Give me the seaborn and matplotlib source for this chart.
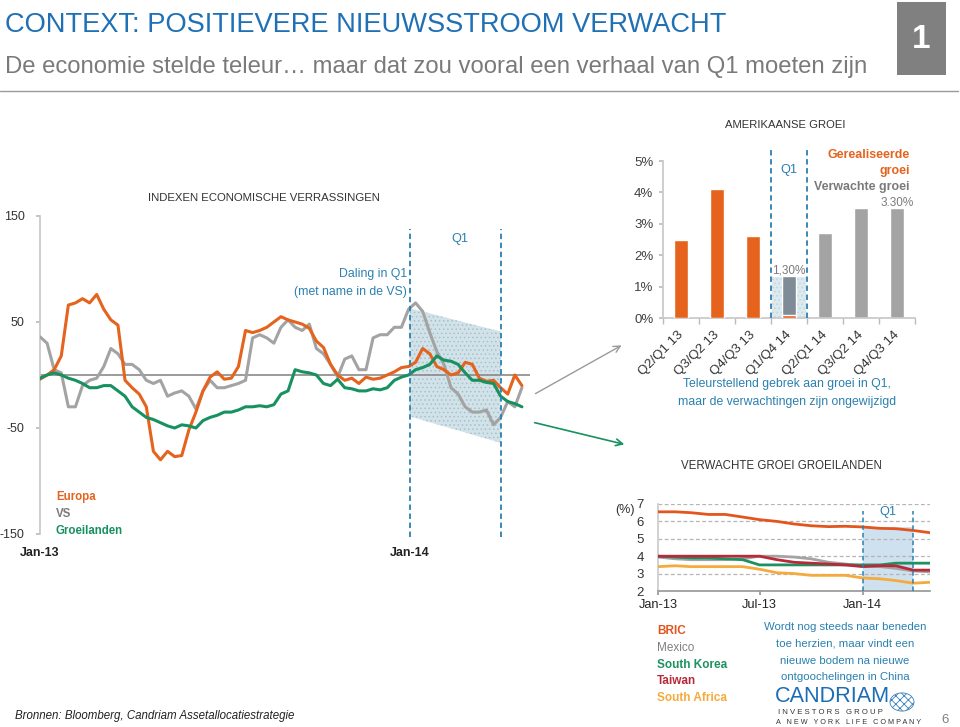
import numpy as np
import pandas as pd
import matplotlib
matplotlib.use("Agg")
import matplotlib.pyplot as plt
import matplotlib.dates as mdates
from matplotlib import font_manager as fm
from matplotlib.patches import Polygon, Rectangle, Circle, FancyArrowPatch
import seaborn as sns

# ---- data: indexen economische verrassingen (weekly, Jan-13 .. Apr-14)
weken = pd.date_range("2013-01-01", periods=69, freq="7D")
europa = [-4, 0, 5, 18, 66, 68, 72, 68, 76, 62, 52, 47, -5, -12, -18, -30, -72, -80,
          -72, -77, -76, -52, -35, -15, -2, 3, -4, -3, 8, 42, 40, 42, 45, 50, 55, 52,
          50, 48, 44, 32, 26, 10, 0, -5, -3, -8, -2, -4, -3, 0, 3, 7, 8, 12, 25, 20,
          8, 5, 0, 2, 12, 10, -3, -6, -5, -12, -18, 0, -10]
vs = [36, 30, 5, 2, -30, -30, -10, -5, -3, 8, 25, 20, 10, 10, 5, -5, -8, -5, -20,
      -17, -15, -20, -32, -15, -5, -12, -12, -10, -8, -5, 35, 38, 35, 30, 45, 52, 45,
      42, 48, 25, 20, 10, -2, 15, 18, 5, 5, 35, 38, 38, 45, 45, 62, 68, 60, 40, 22,
      10, -12, -18, -30, -35, -35, -33, -47, -40, -25, -30, -12]
groeilanden = [-3, 0, 2, 0, -3, -5, -8, -12, -12, -10, -10, -15, -20, -30, -35, -40,
               -42, -45, -48, -50, -47, -48, -50, -43, -40, -38, -35, -35, -33, -30,
               -30, -29, -30, -28, -18, -15, 5, 3, 2, 0, -8, -10, -4, -12, -13, -15,
               -15, -13, -14, -12, -5, -2, 0, 5, 7, 10, 18, 14, 13, 10, 2, -5, -5, -7,
               -8, -20, -25, -27, -30]

# ---- data: amerikaanse groei
kwartalen = ["Q2/Q1 13", "Q3/Q2 13", "Q4/Q3 13", "Q1/Q4 14", "Q2/Q1 14", "Q3/Q2 14", "Q4/Q3 14"]
gerealiseerd = [2.5, 4.1, 2.6, 0.1, None, None, None]
verwacht = [None, None, None, 1.35, 2.7, 3.5, 3.5]

# ---- data: verwachte groei groeilanden (monthly)
maanden = pd.date_range("2013-01-01", periods=17, freq="MS")
bric = [6.55, 6.55, 6.5, 6.4, 6.4, 6.25, 6.1, 6.0, 5.85, 5.75, 5.7, 5.72, 5.68, 5.6, 5.58, 5.48, 5.35]
mexico = [3.95, 3.85, 3.8, 3.8, 3.8, 3.85, 4.0, 4.0, 3.95, 3.85, 3.65, 3.55, 3.45, 3.4, 3.3, 3.15, 3.1]
south_korea = [4.0, 3.95, 3.9, 3.9, 3.85, 3.8, 3.5, 3.5, 3.5, 3.5, 3.5, 3.5, 3.5, 3.5, 3.6, 3.6, 3.6]
taiwan = [4.0, 4.0, 4.0, 4.0, 4.0, 4.0, 4.0, 3.8, 3.65, 3.6, 3.55, 3.5, 3.4, 3.45, 3.45, 3.2, 3.2]
south_africa = [3.4, 3.45, 3.4, 3.4, 3.4, 3.4, 3.25, 3.05, 3.0, 2.9, 2.9, 2.9, 2.75, 2.7, 2.6, 2.45, 2.5]

ORANJE = "#E5631C"
GRIJS = "#A3A3A3"
GROEN = "#17915F"
BLAUW = "#1F70B5"
TEAL = "#2A80B0"

sns.set_theme(style="white")
plt.rcParams["font.family"] = ["Liberation Sans", "DejaVu Sans"]
plt.rcParams["hatch.linewidth"] = 0.6

W, H = 960, 727
fig = plt.figure(figsize=(W / 100, H / 100), dpi=100)


def box(x0, y0, x1, y1):
    return fig.add_axes([x0 / W, 1 - y1 / H, (x1 - x0) / W, (y1 - y0) / H])


def txt(x, y, s, size, **kw):
    fig.text(x / W, 1 - y / H, s, fontsize=size, **kw)


# ---- header
txt(5, 32, "CONTEXT: POSITIEVERE NIEUWSSTROOM VERWACHT", 19.6, color=BLAUW, va="baseline")
txt(5, 73, "De economie stelde teleur\u2026 maar dat zou vooral een verhaal van Q1 moeten zijn",
    17.2, color="#7a7a7a", va="baseline")
fig.patches.append(Rectangle((897 / W, 1 - 75 / H), 49 / W, 73 / H, transform=fig.transFigure,
                             facecolor="#808080", edgecolor="none"))
txt(921.5, 40, "1", 24, color="white", fontweight="bold", ha="center", va="center")
fig.add_artist(plt.Line2D([0, 958 / W], [1 - 91 / H] * 2, color="#9a9a9a", lw=1))

# ---- left: indexen economische verrassingen
ax1 = box(40, 216, 530, 534)
df1 = pd.DataFrame({"datum": weken, "Europa": europa, "VS": vs, "Groeilanden": groeilanden})
q1_start, q1_eind = pd.Timestamp("2014-01-01"), pd.Timestamp("2014-04-01")
band = Polygon([(mdates.date2num(q1_start), 63), (mdates.date2num(q1_eind), 41),
                (mdates.date2num(q1_eind), -64), (mdates.date2num(q1_start), -39)],
               facecolor="#d2e2e9", edgecolor="#a7c1cb", hatch="....", lw=0, zorder=0)
ax1.add_patch(band)
ax1.axhline(0, color="#8a8a8a", lw=1.2, zorder=1)
for naam, kleur in [("VS", GRIJS), ("Europa", ORANJE), ("Groeilanden", GROEN)]:
    sns.lineplot(data=df1, x="datum", y=naam, ax=ax1, color=kleur, lw=2.2, zorder=3)
for d in (q1_start, q1_eind):
    ax1.axvline(d, ymin=-0.01, ymax=0.96, color=TEAL, lw=1.3, ls=(0, (3, 2)), clip_on=False, zorder=4)
ax1.set_xlim(pd.Timestamp("2013-01-01"), pd.Timestamp("2014-04-30"))
ax1.set_ylim(-150, 150)
ax1.set_yticks([150, 50, -50, -150])
ax1.set_yticklabels(["150", "50", "-50", "-150"], fontsize=9, color="#333333")
ax1.set_xticks([pd.Timestamp("2013-01-01"), pd.Timestamp("2014-01-01")])
ax1.set_xticklabels(["Jan-13", "Jan-14"], fontsize=9, color="#222222", fontweight="bold")
ax1.tick_params(axis="y", left=True, length=3, color="#bbbbbb", pad=8)
ax1.tick_params(axis="x", bottom=False, pad=3)
ax1.set_xlabel("")
ax1.set_ylabel("")
for s in ("top", "right", "bottom"):
    ax1.spines[s].set_visible(False)
ax1.spines["left"].set_color("#c8c8c8")
txt(264, 198, "INDEXEN ECONOMISCHE VERRASSINGEN", 8.2, color="#333333", ha="center", va="center")
txt(460, 239, "Q1", 9.2, color=TEAL, ha="center", va="center")
txt(407, 274, "Daling in Q1", 8.8, color=TEAL, ha="right", va="center")
txt(407, 292, "(met name in de VS)", 8.8, color=TEAL, ha="right", va="center")
txt(56, 497, "Europa", 8.3, color=ORANJE, fontweight="bold", va="center")
txt(56, 514, "VS", 8.3, color="#7a7a7a", fontweight="bold", va="center")
txt(56, 531, "Groeilanden", 8.3, color=GROEN, fontweight="bold", va="center")

# arrows to the right-hand charts
fig.add_artist(FancyArrowPatch((533 / W, 1 - 395 / H), (624 / W, 1 - 344 / H),
               transform=fig.transFigure, arrowstyle="->", mutation_scale=12, color="#9a9a9a", lw=1))
fig.add_artist(FancyArrowPatch((532 / W, 1 - 422 / H), (627 / W, 1 - 445 / H),
               transform=fig.transFigure, arrowstyle="->", mutation_scale=12, color=GROEN, lw=1.2))

# ---- top right: amerikaanse groei
ax2 = box(663, 161, 915, 318)
df_v = pd.DataFrame({"kw": kwartalen, "v": verwacht}).dropna()
df_g = pd.DataFrame({"kw": kwartalen, "v": gerealiseerd}).dropna()
kleur_v = {k: ("#7f8c97" if k == "Q1/Q4 14" else GRIJS) for k in kwartalen}
kleur_g = {k: ORANJE for k in kwartalen}
ax2.add_patch(Rectangle((2.52, 0), 0.96, 1.3, facecolor="#dce9ef", edgecolor="#c2d6de",
                        hatch="....", lw=0, zorder=0))
sns.barplot(data=df_v, x="kw", y="v", hue="kw", order=kwartalen, palette=kleur_v,
            width=0.4, saturation=1, legend=False, ax=ax2, zorder=2)
sns.barplot(data=df_g, x="kw", y="v", hue="kw", order=kwartalen, palette=kleur_g,
            width=0.4, saturation=1, legend=False, ax=ax2, zorder=3)
for xv in (2.5, 3.5):
    ax2.axvline(xv, ymin=0, ymax=1.07, color=TEAL, lw=1.3, ls=(0, (3, 2)), clip_on=False, zorder=4)
ax2.set_xlim(-0.5, 6.5)
ax2.set_ylim(0, 5)
ax2.set_yticks(range(6))
ax2.set_yticklabels([f"{i}%" for i in range(6)], fontsize=9.5, color="#404040")
ax2.set_xticks(range(7))
ax2.set_xticklabels(kwartalen, rotation=45, ha="right", va="center", rotation_mode="anchor",
                    fontsize=9.5, color="#333333")
ax2.set_xticks(np.arange(-0.5, 7, 1), minor=True)
ax2.tick_params(axis="x", which="major", bottom=False, pad=5)
ax2.tick_params(axis="x", which="minor", bottom=True, length=4, color="#bbbbbb")
ax2.tick_params(axis="y", left=True, length=3, color="#bbbbbb", pad=4)
ax2.set_xlabel("")
ax2.set_ylabel("")
for s in ("top", "right"):
    ax2.spines[s].set_visible(False)
for s in ("left", "bottom"):
    ax2.spines[s].set_color("#c8c8c8")
ax2.text(3, 1.52, "1,30%", fontsize=8.5, color="#7a7a7a", ha="center", va="center")
ax2.text(6, 3.66, "3.30%", fontsize=8.5, color="#7a7a7a", ha="center", va="center")
ax2.text(3, 4.7, "Q1", fontsize=9.2, color=TEAL, ha="center", va="center")
txt(785, 125, "AMERIKAANSE GROEI", 8.1, color="#333333", ha="center", va="center")
txt(910, 155, "Gerealiseerde", 8.9, color=ORANJE, fontweight="bold", ha="right", va="center")
txt(910, 171, "groei", 8.9, color=ORANJE, fontweight="bold", ha="right", va="center")
txt(910, 187, "Verwachte groei", 8.9, color="#7a7a7a", fontweight="bold", ha="right", va="center")
txt(787, 384, "Teleurstellend gebrek aan groei in Q1,", 8.8, color=TEAL, ha="center", va="center")
txt(787, 402, "maar de verwachtingen zijn ongewijzigd", 8.8, color=TEAL, ha="center", va="center")

# ---- bottom right: verwachte groei groeilanden
ax3 = box(658, 504, 930, 591)
df3 = pd.DataFrame({"maand": maanden, "BRIC": bric, "Mexico": mexico, "South Korea": south_korea,
                    "Taiwan": taiwan, "South Africa": south_africa})
em_kleuren = {"BRIC": "#E2561D", "Mexico": GRIJS, "South Korea": "#1E9160",
              "Taiwan": "#B82A3A", "South Africa": "#F5AA3C"}
ax3.add_patch(Rectangle((mdates.date2num(q1_start), 2),
                        mdates.date2num(q1_eind) - mdates.date2num(q1_start), 3.65,
                        facecolor="#cfe0ee", edgecolor="none", zorder=0))
for yv in range(3, 8):
    ax3.axhline(yv, color="#b5b5b5", lw=0.9, ls=(0, (3, 2)), zorder=1)
for naam in ["Mexico", "South Africa", "South Korea", "Taiwan", "BRIC"]:
    sns.lineplot(data=df3, x="maand", y=naam, ax=ax3, color=em_kleuren[naam], lw=2, zorder=3)
for d in (q1_start, q1_eind):
    ax3.axvline(d, ymin=0, ymax=0.92, color=TEAL, lw=1.1, ls=(0, (3, 2)), zorder=4)
ax3.set_xlim(pd.Timestamp("2013-01-01"), pd.Timestamp("2014-05-01"))
ax3.set_ylim(2, 7)
ax3.set_yticks(range(2, 8))
ax3.set_yticklabels([str(i) for i in range(2, 8)], fontsize=9.5, color="#333333")
ax3.set_xticks([pd.Timestamp("2013-01-01"), pd.Timestamp("2013-07-01"), pd.Timestamp("2014-01-01")])
ax3.set_xticklabels(["Jan-13", "Jul-13", "Jan-14"], fontsize=9.2, color="#222222")
ax3.tick_params(axis="x", bottom=True, length=3, color="#999999", pad=3)
ax3.tick_params(axis="y", left=False, pad=4)
ax3.set_xlabel("")
ax3.set_ylabel("")
for s in ("top", "right"):
    ax3.spines[s].set_visible(False)
ax3.spines["left"].set_color("#cccccc")
ax3.spines["bottom"].set_color("#999999")
ax3.text(pd.Timestamp("2014-02-15"), 6.55, "Q1", fontsize=9.2, color=TEAL, ha="center", va="center")
txt(625, 510, "(%)", 9, color="#333333", ha="center", va="center")
txt(781, 466, "VERWACHTE GROEI GROEILANDEN", 8.3, color="#333333", ha="center", va="center")
for i, naam in enumerate(["BRIC", "Mexico", "South Korea", "Taiwan", "South Africa"]):
    kleur = "#808080" if naam == "Mexico" else em_kleuren[naam]
    txt(657, 631 + i * 16.8, naam, 8.5, color=kleur, fontweight="bold" if naam != "Mexico" else "normal",
        va="center")
for i, regel in enumerate(["Wordt nog steeds naar beneden", "toe herzien, maar vindt een",
                           "nieuwe bodem na nieuwe", "ontgoochelingen in China"]):
    txt(845, 627 + i * 16.8, regel, 8.2, color=TEAL, ha="center", va="center")

# ---- footer + logo
txt(15, 716, "Bronnen: Bloomberg, Candriam Assetallocatiestrategie", 8.3, color="#222222",
    style="italic", va="center")
txt(775, 697, "CANDRIAM", 15.6, color="#1C6DB3", va="center")
txt(778, 712, "I N V E S T O R S   G R O U P", 5.6, color="#333333", va="center")
txt(776, 722, "A   N E W   Y O R K   L I F E   C O M P A N Y", 5.2, color="#333333", va="center")
fig.patches.append(Circle((902 / W, 1 - 702 / H), 12 / W, transform=fig.transFigure,
                          facecolor="white", edgecolor="#3a7fb8", hatch="xxxx", lw=0.6))
txt(945, 720, "6", 9.5, color="#808080", ha="center", va="center")

fig.savefig("out.png", dpi=100)
